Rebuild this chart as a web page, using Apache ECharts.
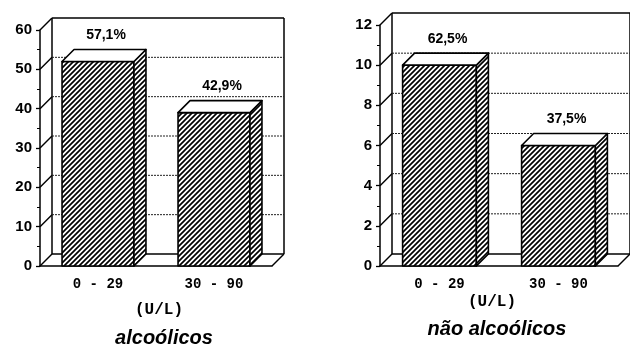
<!DOCTYPE html>
<html>
<head>
<meta charset="utf-8">
<script src="https://cdn.jsdelivr.net/npm/echarts@6/dist/echarts.min.js"></script>
<style>
  html, body { margin: 0; background: #fff; }
  #chart { width: 630px; height: 346px; }
</style>
</head>
<body>
<div id="chart"></div>
<script>
const categories = ['0 - 29', '30 - 90']
const alcoolicos = [52, 39]
const alcoolicosPct = ['57,1%', '42,9%']
const naoAlcoolicos = [10, 6]
const naoAlcoolicosPct = ['62,5%', '37,5%']
const ticksLeft = [0, 10, 20, 30, 40, 50, 60]
const ticksRight = [0, 2, 4, 6, 8, 10, 12]

const DEPTH = 12
const SANS = 'Liberation Sans'
const MONO = 'Liberation Mono'

// diagonal hatch tile for the bar faces
const makeHatch = () => {
  const s = 5
  const c = document.createElement('canvas')
  c.width = s
  c.height = s
  const g = c.getContext('2d')
  g.fillStyle = '#fff'
  g.fillRect(0, 0, s, s)
  g.strokeStyle = '#000'
  g.lineWidth = 1.7
  g.beginPath()
  g.moveTo(-1, s + 1); g.lineTo(s + 1, -1)
  g.moveTo(-1, 1); g.lineTo(1, -1)
  g.moveTo(s - 1, s + 1); g.lineTo(s + 1, s - 1)
  g.stroke()
  return c
}
const hatch = { image: makeHatch(), repeat: 'repeat' }

const solid = { stroke: '#000', lineWidth: 1.5 }

// side wall, back wall grid and floor, one item per y tick
const wallItem = (ticks) => (params, api) => {
  const cs = params.coordSys
  const v = api.value(1)
  const y = api.coord([0, v])[1]
  const L = cs.x
  const R = cs.x + cs.width
  const first = v === ticks[0]
  const last = v === ticks[ticks.length - 1]
  const children = [
    { type: 'line', shape: { x1: L, y1: y, x2: L + DEPTH, y2: y - DEPTH }, style: solid },
    {
      type: 'line',
      shape: { x1: L + DEPTH, y1: y - DEPTH, x2: R + DEPTH, y2: y - DEPTH },
      style: first || last ? solid : { stroke: '#222', lineWidth: 1, lineDash: [2, 1] },
    },
  ]
  if (first) {
    const top = cs.y
    children.push(
      { type: 'line', shape: { x1: R, y1: y, x2: R + DEPTH, y2: y - DEPTH }, style: solid },
      { type: 'line', shape: { x1: L + DEPTH, y1: top - DEPTH, x2: L + DEPTH, y2: y - DEPTH }, style: solid },
      { type: 'line', shape: { x1: R + DEPTH, y1: top - DEPTH, x2: R + DEPTH, y2: y - DEPTH }, style: solid }
    )
  }
  return { type: 'group', children }
}

const barItem = (labels) => (params, api) => {
  const i = api.value(0)
  const top = api.coord([i, api.value(1)])
  const base = api.coord([i, 0])
  const w = api.size([1, 0])[0] * 0.62
  const x0 = top[0] - w / 2
  const x1 = top[0] + w / 2
  const yt = top[1]
  const yb = base[1]
  const edge = { stroke: '#000', lineWidth: 1.6, lineJoin: 'round' }
  return {
    type: 'group',
    children: [
      { type: 'rect', shape: { x: x0, y: yt, width: w, height: yb - yt }, style: { fill: hatch, ...edge } },
      {
        type: 'polygon',
        shape: { points: [[x1, yt], [x1 + DEPTH, yt - DEPTH], [x1 + DEPTH, yb - DEPTH], [x1, yb]] },
        style: { fill: hatch, ...edge },
      },
      {
        type: 'polygon',
        shape: { points: [[x0, yt], [x0 + DEPTH, yt - DEPTH], [x1 + DEPTH, yt - DEPTH], [x1, yt]] },
        style: { fill: '#fff', ...edge },
      },
      {
        type: 'text',
        style: {
          text: labels[params.dataIndex],
          x: top[0] + 8,
          y: yt - DEPTH - 14,
          align: 'center',
          verticalAlign: 'middle',
          fontSize: 14,
          fontWeight: 'bold',
          fontFamily: SANS,
          fill: '#000',
        },
      },
    ],
  }
}

const xAxis = (gridIndex) => ({
  type: 'category',
  gridIndex,
  data: categories,
  axisLine: { lineStyle: { color: '#000', width: 1.5 } },
  axisTick: { length: 4, lineStyle: { color: '#000', width: 1.3 } },
  axisLabel: { color: '#000', fontSize: 14, fontWeight: 'bold', fontFamily: MONO, margin: 11 },
})

const yAxis = (gridIndex, max, interval) => ({
  type: 'value',
  gridIndex,
  min: 0,
  max,
  interval,
  axisLine: { show: true, lineStyle: { color: '#000', width: 1.5 } },
  axisTick: { show: true, length: 4, lineStyle: { color: '#000', width: 1.3 } },
  minorTick: { show: true, splitNumber: 2, length: 3, lineStyle: { color: '#000', width: 1 } },
  splitLine: { show: false },
  axisLabel: { color: '#000', fontSize: 15, fontWeight: 'bold', fontFamily: SANS, margin: 8 },
})

const text = (x, y, t, font) => ({
  type: 'text',
  x,
  y,
  style: { text: t, align: 'center', verticalAlign: 'middle', fill: '#000', ...font },
})

const chart = echarts.init(document.getElementById('chart'))
chart.setOption({
  animation: false,
  backgroundColor: '#fff',
  grid: [
    { left: 40, top: 30, width: 232, height: 236 },
    { left: 380, top: 25, width: 238, height: 241 },
  ],
  xAxis: [xAxis(0), xAxis(1)],
  yAxis: [yAxis(0, 60, 10), yAxis(1, 12, 2)],
  series: [
    { type: 'custom', xAxisIndex: 0, yAxisIndex: 0, z: 1, silent: true, clip: false,
      renderItem: wallItem(ticksLeft), data: ticksLeft.map((v) => [0, v]) },
    { type: 'custom', xAxisIndex: 1, yAxisIndex: 1, z: 1, silent: true, clip: false,
      renderItem: wallItem(ticksRight), data: ticksRight.map((v) => [0, v]) },
    { type: 'custom', xAxisIndex: 0, yAxisIndex: 0, z: 3, clip: false,
      renderItem: barItem(alcoolicosPct), data: alcoolicos.map((v, i) => [i, v]) },
    { type: 'custom', xAxisIndex: 1, yAxisIndex: 1, z: 3, clip: false,
      renderItem: barItem(naoAlcoolicosPct), data: naoAlcoolicos.map((v, i) => [i, v]) },
  ],
  graphic: [
    text(159, 310, '(U/L)', { fontSize: 16, fontWeight: 'bold', fontFamily: MONO }),
    text(492, 302, '(U/L)', { fontSize: 16, fontWeight: 'bold', fontFamily: MONO }),
    text(164, 338, 'alcoólicos', { fontSize: 20, fontWeight: 'bold', fontStyle: 'italic', fontFamily: SANS }),
    text(497, 329, 'não alcoólicos', { fontSize: 20, fontWeight: 'bold', fontStyle: 'italic', fontFamily: SANS }),
  ],
})
</script>
</body>
</html>
